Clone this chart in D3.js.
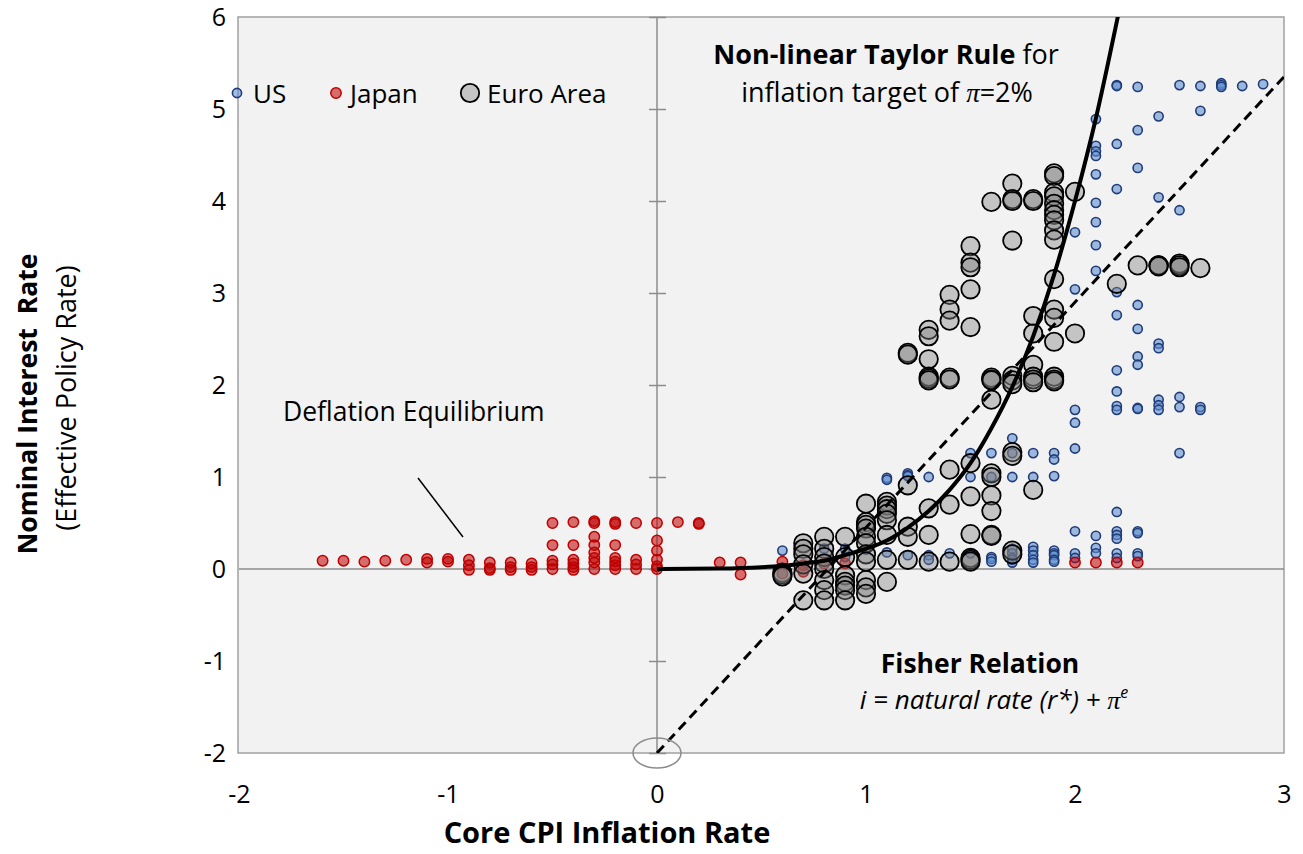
<!DOCTYPE html>
<html lang="en">
<head>
<meta charset="UTF-8">
<title>Taylor rule and Fisher relation</title>
<style>
  body { margin: 0; background: #fff; }
  text { font-family: "Open Sans", "Noto Sans", sans-serif; fill: #000; }
</style>
</head>
<body>
<svg id="svg" width="1303" height="854"></svg>
<script src="https://d3js.org/d3.v7.min.js"></script>
<script>
// core CPI inflation (x) vs effective policy rate (y)
const usPoints = [
  [0.6,0.20],[0.8,0.22],[0.9,0.22],[0.9,0.13],[1.0,0.21],
  [1.1,0.99],[1.1,0.97],[1.1,0.18],
  [1.2,1.04],[1.2,1.02],[1.2,1.01],[1.2,0.15],
  [1.3,1.00],[1.3,0.15],[1.3,0.10],
  [1.4,0.17],
  [1.5,1.26],[1.5,1.00],[1.5,0.17],
  [1.6,1.26],[1.6,1.00],[1.6,0.13],[1.6,0.11],[1.6,0.08],
  [1.7,1.42],[1.7,1.26],[1.7,1.00],[1.7,0.22],[1.7,0.17],[1.7,0.12],[1.7,0.10],[1.7,0.07],
  [1.8,1.26],[1.8,1.00],[1.8,0.24],[1.8,0.20],[1.8,0.15],[1.8,0.10],[1.8,0.07],
  [1.9,1.26],[1.9,1.19],[1.9,1.01],[1.9,0.20],[1.9,0.17],[1.9,0.15],[1.9,0.10],[1.9,0.08],
  [2.0,3.66],[2.0,3.04],[2.0,1.73],[2.0,1.59],[2.0,1.31],[2.0,0.41],[2.0,0.17],[2.0,0.12],
  [2.1,4.89],[2.1,4.60],[2.1,4.54],[2.1,4.49],[2.1,4.29],[2.1,3.98],[2.1,3.77],[2.1,3.52],[2.1,3.24],
  [2.1,0.36],[2.1,0.23],[2.1,0.17],
  [2.2,5.26],[2.2,5.25],[2.2,4.62],[2.2,4.13],[2.2,3.01],[2.2,2.76],[2.2,2.16],[2.2,1.93],[2.2,1.77],
  [2.2,1.73],[2.2,0.62],[2.2,0.41],[2.2,0.37],[2.2,0.33],[2.2,0.17],[2.2,0.12],
  [2.3,5.24],[2.3,4.77],[2.3,4.36],[2.3,2.87],[2.3,2.61],[2.3,2.31],[2.3,2.22],[2.3,1.75],[2.3,1.74],
  [2.3,0.41],[2.3,0.39],[2.3,0.17],[2.3,0.14],
  [2.4,4.92],[2.4,4.04],[2.4,2.45],[2.4,2.40],[2.4,1.84],[2.4,1.78],[2.4,1.73],
  [2.5,5.26],[2.5,3.90],[2.5,1.87],[2.5,1.76],[2.5,1.26],
  [2.6,5.25],[2.6,4.98],[2.6,1.76],[2.6,1.73],
  [2.7,5.28],[2.7,5.26],[2.7,5.24],
  [2.8,5.25],[2.9,5.27]
]

const japanPoints = [
  [-1.6,0.09],[-1.5,0.09],[-1.4,0.08],[-1.3,0.09],[-1.2,0.10],
  [-1.1,0.07],[-1.1,0.11],[-1.0,0.08],[-1.0,0.11],
  [-0.9,0.10],[-0.9,0.04],[-0.9,-0.01],
  [-0.8,0.07],[-0.8,0.01],[-0.8,-0.01],
  [-0.7,0.07],[-0.7,0.02],[-0.7,-0.01],
  [-0.6,0.06],[-0.6,0.02],[-0.6,-0.01],
  [-0.5,0.50],[-0.5,0.26],[-0.5,0.09],[-0.5,0.05],[-0.5,0.00],
  [-0.4,0.51],[-0.4,0.26],[-0.4,0.10],[-0.4,0.06],[-0.4,0.02],[-0.4,-0.01],
  [-0.3,0.52],[-0.3,0.50],[-0.3,0.35],[-0.3,0.26],[-0.3,0.18],[-0.3,0.12],[-0.3,0.07],[-0.3,0.00],
  [-0.2,0.51],[-0.2,0.49],[-0.2,0.26],[-0.2,0.12],[-0.2,0.08],[-0.2,0.04],[-0.2,0.00],
  [-0.1,0.50],[-0.1,0.10],[-0.1,0.05],[-0.1,0.00],
  [0.0,0.50],[0.0,0.31],[0.0,0.20],[0.0,0.10],[0.0,0.03],[0.0,0.00],
  [0.1,0.51],[0.2,0.50],[0.2,0.49],
  [0.3,0.07],[0.4,0.07],[0.4,-0.06],
  [0.6,0.08],[0.6,-0.05],[0.7,0.04],[0.7,-0.03],[0.8,0.06],[0.9,0.06],
  [2.0,0.07],[2.1,0.07],[2.2,0.07],[2.3,0.07]
]

const euroPoints = [
  [0.6,-0.04],[0.6,-0.06],[0.6,-0.08],
  [0.7,0.28],[0.7,0.22],[0.7,0.16],[0.7,0.05],[0.7,-0.05],[0.7,-0.34],
  [0.8,0.35],[0.8,0.22],[0.8,0.13],[0.8,0.06],[0.8,0.00],[0.8,-0.12],[0.8,-0.23],[0.8,-0.34],
  [0.9,0.35],[0.9,0.13],[0.9,-0.07],[0.9,-0.14],[0.9,-0.18],[0.9,-0.23],[0.9,-0.34],
  [1.0,0.71],[1.0,0.51],[1.0,0.48],[1.0,0.44],[1.0,0.35],[1.0,0.28],[1.0,0.16],[1.0,0.08],
  [1.0,-0.12],[1.0,-0.20],[1.0,-0.27],
  [1.1,0.73],[1.1,0.69],[1.1,0.65],[1.1,0.60],[1.1,0.53],[1.1,0.37],[1.1,0.10],[1.1,-0.14],
  [1.2,2.35],[1.2,2.33],[1.2,0.91],[1.2,0.46],[1.2,0.35],[1.2,0.10],
  [1.3,2.60],[1.3,2.53],[1.3,2.28],[1.3,2.09],[1.3,2.07],[1.3,2.05],[1.3,0.66],[1.3,0.37],[1.3,0.08],
  [1.4,2.98],[1.4,2.82],[1.4,2.70],[1.4,2.08],[1.4,2.06],[1.4,1.08],[1.4,0.70],[1.4,0.08],
  [1.5,3.51],[1.5,3.33],[1.5,3.28],[1.5,3.04],[1.5,2.63],[1.5,1.15],[1.5,0.79],[1.5,0.38],
  [1.5,0.12],[1.5,0.10],[1.5,0.08],
  [1.6,3.99],[1.6,2.08],[1.6,2.06],[1.6,2.05],[1.6,1.84],[1.6,1.04],[1.6,1.00],[1.6,0.80],
  [1.6,0.63],[1.6,0.37],[1.6,0.36],
  [1.7,4.19],[1.7,4.02],[1.7,4.00],[1.7,3.57],[1.7,2.10],[1.7,2.05],[1.7,2.01],[1.7,1.27],
  [1.7,1.23],[1.7,0.20],[1.7,0.16],
  [1.8,4.02],[1.8,4.00],[1.8,2.75],[1.8,2.56],[1.8,2.22],[1.8,2.09],[1.8,2.06],[1.8,2.03],[1.8,0.86],
  [1.9,4.30],[1.9,4.27],[1.9,4.09],[1.9,4.05],[1.9,3.97],[1.9,3.90],[1.9,3.85],[1.9,3.79],
  [1.9,3.68],[1.9,3.58],[1.9,3.15],[1.9,2.82],[1.9,2.73],[1.9,2.47],[1.9,2.09],[1.9,2.06],[1.9,2.04],
  [2.0,4.10],[2.0,2.56],
  [2.2,3.10],[2.3,3.30],[2.4,3.30],[2.4,3.30],[2.4,3.29],
  [2.5,3.32],[2.5,3.30],[2.5,3.28],[2.6,3.27]
]

// non-linear Taylor rule curve
const taylorCurve = [
  [0,0],[0.3,0.005],[0.5,0.02],[0.6,0.035],[0.7,0.06],[0.8,0.09],[0.9,0.15],[1.0,0.22],
  [1.1,0.31],[1.2,0.45],[1.3,0.63],[1.4,0.86],[1.5,1.15],[1.6,1.53],[1.7,1.98],[1.8,2.53],
  [1.9,3.2],[2.0,4.0],[2.1,4.9],[2.2,5.95],[2.25,6.5]
]
// Fisher relation i = r* + pi, r* = -2
const fisherLine = [[0,-2],[3,5.35]]

const xTicks = [-2, -1, 0, 1, 2, 3]
const yTicks = [-2, -1, 0, 1, 2, 3, 4, 5, 6]

const svg = d3.select('#svg')
const x = d3.scaleLinear().domain([-2, 3]).range([239, 1284])
const y = d3.scaleLinear().domain([-2, 6]).range([753, 17])

// plot area
svg.append('rect')
  .attr('x', x(-2) - 1).attr('y', y(6))
  .attr('width', x(3) - x(-2) + 1).attr('height', y(-2) - y(6))
  .attr('fill', '#f2f2f2')
  .attr('stroke', '#a0a0a0').attr('stroke-width', 1.5)

svg.append('clipPath').attr('id', 'clip')
  .append('rect')
  .attr('x', x(-2)).attr('y', y(6))
  .attr('width', x(3) - x(-2)).attr('height', y(-2) - y(6))

// zero lines
svg.append('line')
  .attr('x1', x(0)).attr('x2', x(0)).attr('y1', y(6)).attr('y2', y(-2))
  .attr('stroke', '#8c8c8c').attr('stroke-width', 1.5)
svg.append('line')
  .attr('x1', x(-2)).attr('x2', x(3)).attr('y1', y(0)).attr('y2', y(0))
  .attr('stroke', '#8c8c8c').attr('stroke-width', 1.5)

// y ticks cross the vertical zero line
const yTickAxis = svg.append('g')
  .attr('transform', `translate(${x(0)},0)`)
  .call(d3.axisLeft(y).tickValues(yTicks).tickSize(8).tickFormat(''))
yTickAxis.select('.domain').remove()
yTickAxis.selectAll('.tick line').attr('x1', -8).attr('x2', 9)
  .attr('stroke', '#8c8c8c').attr('stroke-width', 1.5)

// tick labels (plain hyphen for negatives)
const yLab = svg.append('g')
  .attr('transform', 'translate(226,0)')
  .call(d3.axisLeft(y).tickValues(yTicks).tickSize(0).tickFormat(d => String(d)))
yLab.select('.domain').remove()
yLab.selectAll('text').attr('font-size', 25).attr('font-family', null).attr('x', 0)

const xLab = svg.append('g')
  .attr('transform', 'translate(0,784)')
  .call(d3.axisBottom(x).tickValues(xTicks).tickSize(0).tickFormat(d => String(d)))
xLab.select('.domain').remove()
xLab.selectAll('text').attr('font-size', 25).attr('font-family', null).attr('y', 0).attr('dy', '0.75em')

const line = d3.line().x(d => x(d[0])).y(d => y(d[1]))

// scatter
const styles = {
  us: { r: 4.6, fill: 'rgb(100,145,210)', fo: 0.6, stroke: '#1f3c78', sw: 1.6 },
  jp: { r: 5.2, fill: '#c00000', fo: 0.55, stroke: '#c00000', sw: 1.5 },
  eu: { r: 9.2, fill: '#808080', fo: 0.4, stroke: '#000', sw: 1.8 }
}
function dots(data, s) {
  svg.append('g').selectAll('circle')
    .data(data)
    .join('circle')
    .attr('cx', d => x(d[0]))
    .attr('cy', d => y(d[1]))
    .attr('r', s.r)
    .attr('fill', s.fill).attr('fill-opacity', s.fo)
    .attr('stroke', s.stroke).attr('stroke-width', s.sw)
}
dots(usPoints, styles.us)
dots(japanPoints, styles.jp)
dots(euroPoints, styles.eu)

const lines = svg.append('g').attr('clip-path', 'url(#clip)')
lines.append('path')
  .attr('d', line(fisherLine))
  .attr('fill', 'none').attr('stroke', '#000')
  .attr('stroke-width', 3).attr('stroke-dasharray', '10,6')
lines.append('path')
  .attr('d', line.curve(d3.curveMonotoneX)(taylorCurve))
  .attr('fill', 'none').attr('stroke', '#000').attr('stroke-width', 4)

// ellipse at the natural rate intercept
svg.append('ellipse')
  .attr('cx', x(0)).attr('cy', y(-2)).attr('rx', 24).attr('ry', 15)
  .attr('fill', 'none').attr('stroke', '#8c8c8c').attr('stroke-width', 1.5)

// legend
const legend = [
  { key: 'us', label: 'US', mx: 237, tx: 253 },
  { key: 'jp', label: 'Japan', mx: 336, tx: 350 },
  { key: 'eu', label: 'Euro Area', mx: 470, tx: 487 }
]
legend.forEach(l => {
  const s = styles[l.key]
  svg.append('circle')
    .attr('cx', l.mx).attr('cy', 93).attr('r', s.r)
    .attr('fill', s.fill).attr('fill-opacity', s.fo)
    .attr('stroke', s.stroke).attr('stroke-width', s.sw)
  svg.append('text').attr('x', l.tx).attr('y', 103)
    .attr('font-size', 26).text(l.label)
})

// annotations
const t1 = svg.append('text').attr('x', 886).attr('y', 64)
  .attr('text-anchor', 'middle').attr('font-size', 27)
t1.append('tspan').attr('font-weight', 'bold').text('Non-linear Taylor Rule')
t1.append('tspan').text(' for')
const t2 = svg.append('text').attr('x', 887).attr('y', 102)
  .attr('text-anchor', 'middle').attr('font-size', 27)
t2.append('tspan').text('inflation target of ')
t2.append('tspan').attr('font-style', 'italic').style('font-family', '"Liberation Serif", serif').text('π')
t2.append('tspan').text('=2%')

svg.append('text').attr('x', 283).attr('y', 421)
  .attr('font-size', 26.5).text('Deflation Equilibrium')
svg.append('line')
  .attr('x1', 418).attr('y1', 478).attr('x2', 463).attr('y2', 537)
  .attr('stroke', '#000').attr('stroke-width', 1.5)

svg.append('text').attr('x', 980).attr('y', 673)
  .attr('text-anchor', 'middle').attr('font-size', 26.5).attr('font-weight', 'bold')
  .text('Fisher Relation')
const f2 = svg.append('text').attr('x', 994).attr('y', 709)
  .attr('text-anchor', 'middle').attr('font-size', 26).attr('font-style', 'italic')
f2.append('tspan').text('i = natural rate (r*) + ')
f2.append('tspan').style('font-family', '"Liberation Serif", serif').text('π')
f2.append('tspan').attr('font-size', 16).attr('dy', -11).text('e')

// axis titles
svg.append('text').attr('x', 607).attr('y', 843)
  .attr('text-anchor', 'middle').attr('font-size', 29).attr('font-weight', 'bold')
  .text('Core CPI Inflation Rate')
svg.append('text')
  .attr('transform', 'translate(37,404) rotate(-90)')
  .attr('text-anchor', 'middle').attr('font-size', 26.5).attr('font-weight', 'bold')
  .style('white-space', 'pre')
  .text('Nominal Interest  Rate')
svg.append('text')
  .attr('transform', 'translate(76,398) rotate(-90)')
  .attr('text-anchor', 'middle').attr('font-size', 27)
  .text('(Effective Policy Rate)')
</script>
</body>
</html>
